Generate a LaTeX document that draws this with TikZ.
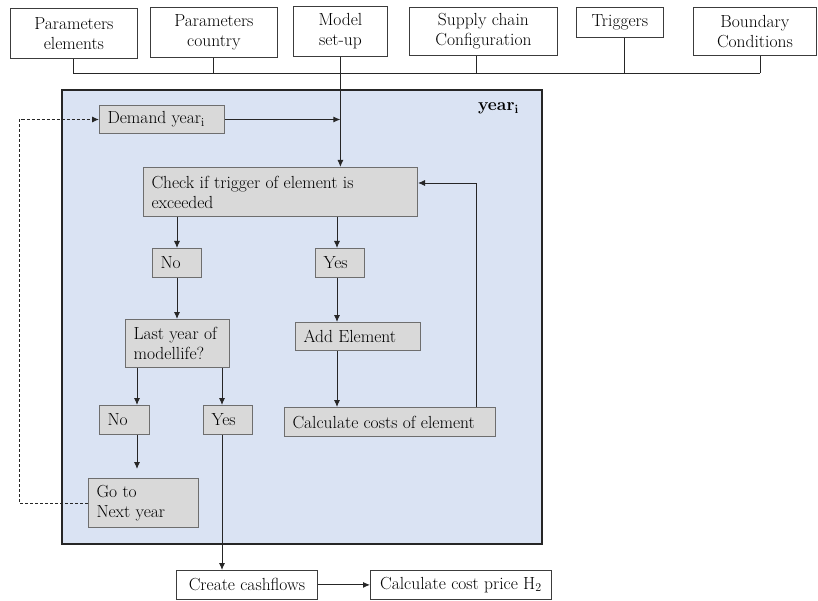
\documentclass[tikz,border=0pt]{standalone}
\usetikzlibrary{arrows.meta}
\definecolor{bluebg}{HTML}{DAE3F3}
\definecolor{boxgray}{HTML}{D9D9D9}
\definecolor{boxedge}{HTML}{6E6E6E}
\definecolor{topedge}{HTML}{3C3C3C}
\begin{document}
\begin{tikzpicture}[x=1pt,y=-1pt,
  base/.style={font=\fontsize{17.5}{20}\selectfont, inner ysep=0pt, anchor=north west},
  topbox/.style={base, draw=topedge, fill=white, line width=0.8pt, align=center, inner xsep=4pt},
  gbox/.style={base, draw=boxedge, fill=boxgray, line width=1pt, align=flush left, inner xsep=8pt},
  wbox/.style={base, draw=topedge, fill=white, line width=0.8pt, align=center, inner xsep=4pt},
  conn/.style={line width=0.9pt, draw=black!85},
  arr/.style={conn, -{Latex[length=7pt,width=6pt]}}]
\useasboundingbox (0,0) rectangle (818,601);
% top boxes
\node[topbox, minimum width=127pt, minimum height=50pt] (pe) at (10,8) {Parameters\\elements};
\node[topbox, minimum width=127pt, minimum height=50pt] (pc) at (150,7) {Parameters\\country};
\node[topbox, minimum width=94pt, minimum height=50pt] (ms) at (293,6) {Model\\set-up};
\node[topbox, minimum width=148pt, minimum height=48pt] (sc) at (409,7) {Supply chain\\Configuration};
\node[topbox, minimum width=87pt, minimum height=30pt] (tr) at (576,7) {Triggers};
\node[topbox, minimum width=123pt, minimum height=48pt] (bc) at (693,7) {Boundary\\Conditions};
% bus
\coordinate (busl) at (73,73);
\coordinate (busr) at (760,73);
\draw[conn] (busl) -- (busr);
\draw[conn] (pe.south) -- (pe.south |- busl);
\draw[conn] (pc.south) -- (pc.south |- busl);
\draw[conn] ([xshift=-7pt]sc.south) -- ([xshift=-7pt]sc.south |- busl);
\draw[conn] ([xshift=5pt]tr.south) -- ([xshift=5pt]tr.south |- busl);
\draw[conn] ([xshift=5.5pt]bc.south) -- ([xshift=5.5pt]bc.south |- busl);
% year frame
\node[draw=black!85, fill=bluebg, line width=1.8pt, anchor=north west, inner sep=0pt,
      minimum width=480pt, minimum height=454pt] (frame) at (61,89) {};
\node[font=\fontsize{17.5}{20}\selectfont, anchor=base east, inner sep=0pt] (yl) at (519,111) {\textbf{year}$_{\mathbf{i}}$};
% inner boxes
\node[gbox, minimum width=125pt, minimum height=28pt, text width=109pt] (demand) at (99,105) {Demand year$_\mathrm{i}$};
\node[gbox, minimum width=274pt, minimum height=49pt, text width=258pt] (check) at (143,167) {Check if trigger of element is\\exceeded};
\node[gbox, minimum width=49pt, minimum height=29pt, text width=33pt] (no1) at (152,248) {No};
\node[gbox, minimum width=49pt, minimum height=29pt, text width=33pt] (yes1) at (315,248) {Yes};
\node[gbox, minimum width=104pt, minimum height=48pt, text width=88pt] (last) at (125,319) {Last year of\\modellife?};
\node[gbox, minimum width=125pt, minimum height=28pt, text width=109pt] (add) at (295,322) {Add Element};
\node[gbox, minimum width=50pt, minimum height=29pt, text width=34pt] (no2) at (99,405) {No};
\node[gbox, minimum width=49pt, minimum height=29pt, text width=33pt] (yes2) at (203,405) {Yes};
\node[gbox, minimum width=211pt, minimum height=29pt, text width=195pt] (calc) at (284,407) {Calculate costs of element};
\node[gbox, minimum width=110pt, minimum height=49pt, text width=94pt] (go) at (88,478) {Go to\\Next year};
% outside boxes
\node[wbox, minimum width=141pt, minimum height=29pt] (create) at (176,570) {Create cashflows};
\node[wbox, minimum width=181pt, minimum height=29pt] (cost) at (370,570) {Calculate cost price H$_2$};
% helper x positions
\coordinate (retx) at (476,0);
\coordinate (lx) at (137,0);
\coordinate (yx) at (222,0);
\coordinate (ylx) at (337,0);
% connectors
\draw[arr] (ms.south) -- (check.north -| ms.south);
\draw[arr] (demand.east) -- (demand.east -| ms.south);
\draw[arr] (check.south -| no1.north) -- (no1.north);
\draw[arr] (check.south -| ylx) -- (yes1.north -| ylx);
\draw[arr] (no1.south) -- (no1.south |- last.north);
\draw[arr] (yes1.south -| ylx) -- (add.north -| ylx);
\draw[arr] (add.south -| ylx) -- (calc.north -| ylx);
\draw[arr] (calc.north -| retx) |- ([yshift=9pt]check.east);
\draw[arr] (last.south -| lx) -- (no2.north -| lx);
\draw[arr] (last.south -| yx) -- (yes2.north -| yx);
\draw[arr, shorten >=9pt] (no2.south -| lx) -- (go.north -| lx);
\draw[arr] (yes2.south -| yx) -- (create.north -| yx);
\draw[arr] (create.east) -- (create.east -| cost.west);
\draw[arr, dash pattern=on 3pt off 2pt] (go.west) -- ++(-69,0) |- (demand.west);
\end{tikzpicture}
\end{document}
